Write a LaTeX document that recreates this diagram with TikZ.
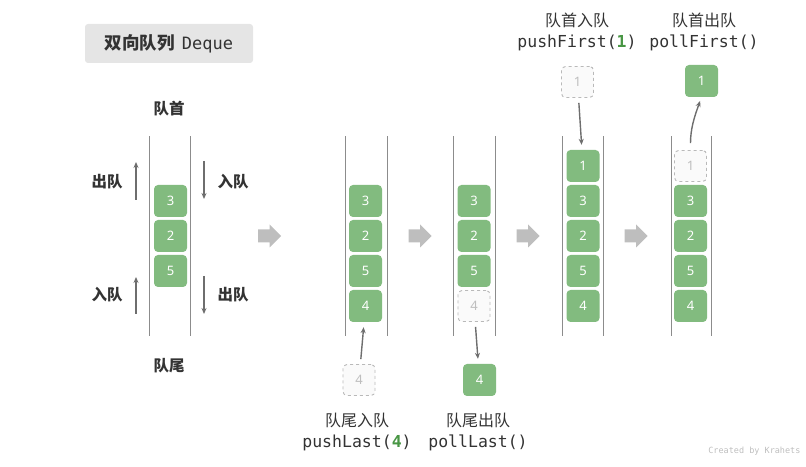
\documentclass[tikz,border=0pt]{standalone}
\usepackage{fontspec}
\setmainfont{Noto Sans}
\setmonofont{DejaVu Sans Mono}
\newfontfamily\cjk{Noto Sans CJK SC}
\usetikzlibrary{arrows.meta}
\definecolor{boxgreen}{RGB}{130,187,127}
\definecolor{codegreen}{RGB}{72,150,68}
\definecolor{textdark}{RGB}{51,51,51}
\definecolor{ghostline}{RGB}{185,185,185}
\definecolor{ghostfill}{RGB}{250,250,250}
\definecolor{ghosttext}{RGB}{190,190,190}
\definecolor{wallgray}{RGB}{140,140,140}
\definecolor{arrowgray}{RGB}{110,110,110}
\definecolor{fatgray}{RGB}{190,190,190}
\definecolor{titlegray}{RGB}{229,229,229}
\tikzstyle{elem}=[rounded corners=4pt,fill=boxgreen,text=white,minimum width=33pt,minimum height=32pt,inner sep=0pt,font=\fontsize{13}{13}\selectfont]
\tikzstyle{ghost}=[rounded corners=4pt,draw=ghostline,dashed,line width=0.9pt,fill=ghostfill,text=ghosttext,minimum width=32pt,minimum height=31pt,inner sep=0pt,font=\fontsize{13}{13}\selectfont]
\tikzstyle{wall}=[draw=wallgray,line width=1pt]
\tikzstyle{lbl}=[text=textdark,font=\cjk\bfseries\fontsize{15.5}{15.5}\selectfont]
\tikzstyle{oplbl}=[text=textdark,font=\cjk\fontsize{16}{16}\selectfont]
\tikzstyle{code}=[text=textdark,font=\ttfamily\fontsize{16.5}{16.5}\selectfont]
\tikzstyle{move}=[draw=arrowgray,line width=1.4pt,-{Stealth[length=6pt,width=5pt]}]
\tikzstyle{titlebox}=[rounded corners=3pt,fill=titlegray,minimum width=168pt,minimum height=39pt,text=textdark]

\begin{document}
\begin{tikzpicture}[x=1pt,y=1pt]
    \useasboundingbox (0,0) rectangle (806,466);
    \node[titlebox] (title) at (169,422.5) {{\cjk\bfseries\fontsize{17.5}{17.5}\selectfont 双向队列}\hspace{7pt}{\ttfamily\fontsize{17}{17}\selectfont Deque}};

    \foreach \x in {149,190,345,387,453,495,562,603,671,711}
    \draw[wall] (\x,130) -- (\x,330);

    \node[lbl] (qhead) at (169,357) {队首};
    \node[lbl] (qtail) at (169,100) {队尾};
    \node[lbl] (lout) at (107,284) {出队};
    \node[lbl] (rin) at (233,284) {入队};
    \node[lbl] (lin) at (107,171) {入队};
    \node[lbl] (rout) at (233,171) {出队};
    \coordinate (lo1) at (136,266);
    \coordinate (lo2) at (136,304);
    \coordinate (ri1) at (204,305);
    \coordinate (ri2) at (204,267);
    \coordinate (li1) at (136,152);
    \coordinate (li2) at (136,189);
    \coordinate (ro1) at (204,190);
    \coordinate (ro2) at (204,152);

    \foreach \v/\y [count=\i] in {3/265,2/230,5/195}
    \node[elem] (a\i) at (170.5,\y) {\v};
    \foreach \v/\y [count=\i] in {3/265,2/230,5/195,4/160}
    \node[elem] (b\i) at (365.5,\y) {\v};
    \foreach \v/\y [count=\i] in {3/265,2/230,5/195}
    \node[elem] (c\i) at (474,\y) {\v};
    \foreach \v/\y [count=\i] in {1/300,3/265,2/230,5/195,4/160}
    \node[elem] (d\i) at (583,\y) {\v};
    \foreach \v/\y [count=\i] in {3/265,2/230,5/195,4/160}
    \node[elem] (e\i) at (690.5,\y) {\v};

    \node[ghost] (bnew) at (359,86) {4};
    \node[ghost] (c4) at (474,160) {4};
    \node[elem] (cout) at (479.5,86) {4};
    \node[ghost] (dnew) at (577.5,384) {1};
    \node[ghost] (e0) at (690.5,300) {1};
    \node[elem] (eout) at (701.5,385) {1};

    \node[oplbl] (bop) at (357,46) {队尾入队};
    \node[code] (bcode) at (357,23) {pushLast(\textbf{\color{codegreen}4})};
    \node[oplbl] (cop) at (478,46) {队尾出队};
    \node[code] (ccode) at (478,23) {pollLast()};
    \node[oplbl] (dop) at (577,446) {队首入队};
    \node[code] (dcode) at (577,423) {pushFirst(\textbf{\color{codegreen}1})};
    \node[oplbl] (eop) at (704,446) {队首出队};
    \node[code] (ecode) at (704,423) {pollFirst()};

    \foreach \from/\to in {lo1/lo2,ri1/ri2,li1/li2,ro1/ro2}
    \draw[move] (\from) -- (\to);
    \foreach \from/\to in {bnew/b4,c4/cout,dnew/d1}
    \draw[move,shorten <=5pt,shorten >=5pt] (\from) -- (\to);
    \draw[move,shorten <=7pt,shorten >=4pt] (e0.north) to[out=90,in=-110] (eout.south);

    \foreach \x in {269.5,420,528,636}
    \fill[fatgray] (\x-11.5,236.5) -- (\x,236.5) -- (\x,241.5) -- (\x+11.5,230) -- (\x,218.5) -- (\x,223.5) -- (\x-11.5,223.5) -- cycle;

    \node[anchor=east,text=ghosttext,font=\ttfamily\fontsize{8.5}{8.5}\selectfont] (credit) at (804,15) {Created by Krahets};
\end{tikzpicture}
\end{document}
